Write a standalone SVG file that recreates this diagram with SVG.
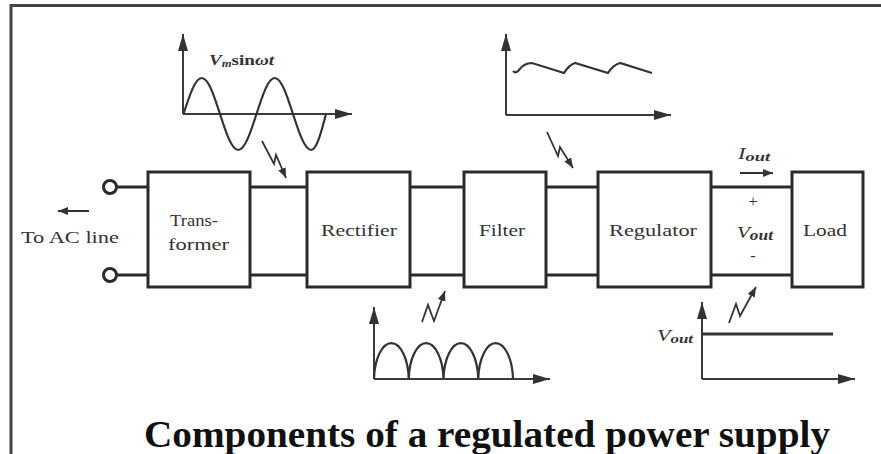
<svg xmlns="http://www.w3.org/2000/svg" width="881" height="454" viewBox="0 0 881 454">
<style>
.box{fill:#fff;stroke:#2a2a2a;stroke-width:3}
.wire{fill:none;stroke:#2a2a2a;stroke-width:3}
.axis{fill:none;stroke:#3a3a3a;stroke-width:2}
.wave{fill:none;stroke:#333;stroke-width:2.2}
.zig{fill:none;stroke:#333;stroke-width:1.8}
.lbl{font-family:"Liberation Serif","Times New Roman",serif;font-size:16px;fill:#333}
.ital{font-family:"Liberation Serif","Times New Roman",serif;font-style:italic;fill:#333}
.title{font-family:"Liberation Serif","Times New Roman",serif;font-weight:bold;font-size:38px;fill:#111}
</style>
<defs>
<marker id="ax" markerUnits="userSpaceOnUse" markerWidth="18" markerHeight="12" refX="17" refY="5" orient="auto">
<path d="M0,0 L17,5 L0,10 z" fill="#333"/>
</marker>
<marker id="sm" markerUnits="userSpaceOnUse" markerWidth="12" markerHeight="10" refX="10" refY="4" orient="auto">
<path d="M0,0 L10,4 L0,8 z" fill="#333"/>
</marker>
</defs>
<rect width="881" height="454" fill="#fff"/>
<path d="M11,454 L11,5.5 L881,5.5" fill="none" stroke="#444" stroke-width="3"/>

<g id="connectors">
<circle cx="110" cy="187" r="6.5" fill="#fff" stroke="#2a2a2a" stroke-width="3"/>
<circle cx="110" cy="275" r="6.5" fill="#fff" stroke="#2a2a2a" stroke-width="3"/>
<path class="wire" d="M116.5,187 H148 M250,187 H307 M410,187 H464 M546,187 H598 M711,187 H792"/>
<path class="wire" d="M116.5,275 H148 M250,275 H307 M410,275 H464 M546,275 H598 M711,275 H792"/>
<path class="zig" d="M262,141 L274,164 L276,155 L286,178" marker-end="url(#sm)"/>
<path class="zig" d="M547,132 L558,156 L560,147 L573,168" marker-end="url(#sm)"/>
<path class="zig" d="M422,322 L428,305 L434,321 L445,291" marker-end="url(#sm)"/>
<path class="zig" d="M729,323 L736,304 L740,316 L756,287" marker-end="url(#sm)"/>
</g>

<g id="ac-line">
<line x1="89" y1="211" x2="58" y2="211" stroke="#333" stroke-width="2" marker-end="url(#sm)"/>
<text class="lbl" x="21" y="243" textLength="98" lengthAdjust="spacingAndGlyphs">To AC line</text>
</g>

<g id="transformer">
<rect class="box" x="148" y="172" width="102" height="115"/>
<text class="lbl" x="170" y="226" textLength="48" lengthAdjust="spacingAndGlyphs">Trans-</text>
<text class="lbl" x="168" y="250" textLength="61" lengthAdjust="spacingAndGlyphs">former</text>
</g>

<g id="rectifier">
<rect class="box" x="307" y="172" width="103" height="115"/>
<text class="lbl" x="321" y="236" textLength="76" lengthAdjust="spacingAndGlyphs">Rectifier</text>
</g>

<g id="filter">
<rect class="box" x="464" y="172" width="82" height="115"/>
<text class="lbl" x="479" y="236" textLength="46" lengthAdjust="spacingAndGlyphs">Filter</text>
</g>

<g id="regulator">
<rect class="box" x="598" y="172" width="113" height="115"/>
<text class="lbl" x="609" y="236" textLength="88" lengthAdjust="spacingAndGlyphs">Regulator</text>
</g>

<g id="output">
<text class="ital" x="738" y="159" font-size="16" textLength="32" lengthAdjust="spacingAndGlyphs">I<tspan font-size="13" font-weight="bold" dy="2">out</tspan></text>
<line x1="740" y1="173" x2="773" y2="173" stroke="#333" stroke-width="2" marker-end="url(#sm)"/>
<text class="lbl" x="753" y="207" text-anchor="middle" font-size="15">+</text>
<text class="ital" x="737" y="238" font-size="17" textLength="36" lengthAdjust="spacingAndGlyphs">V<tspan font-size="14" font-weight="bold" dy="2">out</tspan></text>
<text class="lbl" x="753" y="261" text-anchor="middle" font-size="15">-</text>
</g>

<g id="load">
<rect class="box" x="792" y="172" width="71" height="115"/>
<text class="lbl" x="803" y="236" textLength="44" lengthAdjust="spacingAndGlyphs">Load</text>
</g>

<g id="plot-ac">
<path class="axis" d="M183,114 V34" marker-end="url(#ax)"/>
<path class="axis" d="M183,114 H352" marker-end="url(#ax)"/>
<path class="wave" d="M183.5,114 C189.45,95.56 195.15,78 201.75,78 C208.35,78 214.05,95.56 220,114 C225.95,132.44 231.65,150 238.25,150 C244.85,150 250.55,132.44 256.5,114 C262.45,95.56 268.15,78 274.75,78 C281.35,78 287.05,95.56 293,114 C298.95,132.44 304.65,150 311.25,150 C316.6,150 321.2,132.44 326,114"/>
<text class="ital" x="209" y="65" font-size="15" font-weight="bold" textLength="65" lengthAdjust="spacingAndGlyphs">V<tspan font-size="10" dy="2">m</tspan><tspan dy="-2" font-style="normal">sin</tspan>ωt</text>
</g>

<g id="plot-ripple">
<path class="axis" d="M506,115 V34" marker-end="url(#ax)"/>
<path class="axis" d="M506,115 H671" marker-end="url(#ax)"/>
<path class="wave" d="M513,71 Q516,74 519,70 Q524,63 532,63 L564,73 Q569,65 575,63 L608,73 Q613,65 620,63 L652,73"/>
</g>

<g id="plot-rectified">
<path class="axis" d="M374,379 V307" marker-end="url(#ax)"/>
<path class="axis" d="M374,379 H550" marker-end="url(#ax)"/>
<path class="wave" d="M374,379 A17.4,38 0 0 1 408.75,379 A17.4,38 0 0 1 443.5,379 A17.4,38 0 0 1 478.25,379 A17.4,38 0 0 1 513,379"/>
</g>

<g id="plot-vout">
<path class="axis" d="M702,379 V302" marker-end="url(#ax)"/>
<path class="axis" d="M702,379 H855" marker-end="url(#ax)"/>
<line x1="702" y1="334" x2="833" y2="334" stroke="#333" stroke-width="3"/>
<text class="ital" x="657" y="341" font-size="17" textLength="36" lengthAdjust="spacingAndGlyphs">V<tspan font-size="13" font-weight="bold" dy="2">out</tspan></text>
</g>

<text class="title" x="144" y="447" textLength="686" lengthAdjust="spacingAndGlyphs">Components of a regulated power supply</text>
</svg>
